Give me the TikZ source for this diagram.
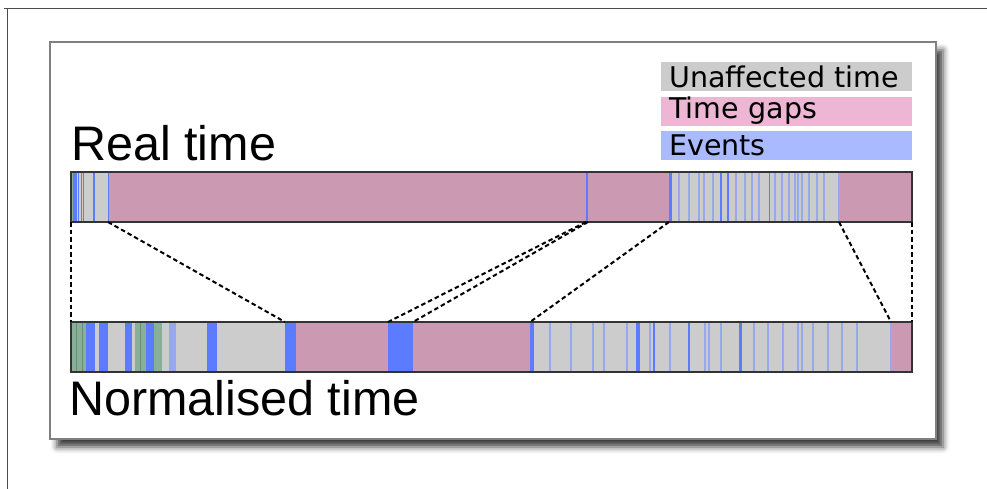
\documentclass[tikz,border=0pt]{standalone}
\usepackage{fontspec}
\setmainfont{Liberation Sans}
\newfontfamily\legendfont{DejaVu Sans}
\usepackage{tikz}
\usetikzlibrary{positioning,shadows.blur}

\definecolor{quietgray}{RGB}{204,204,204}
\definecolor{gappink}{RGB}{204,153,179}
\definecolor{eventblue}{RGB}{92,124,255}
\definecolor{faintblue}{RGB}{152,168,236}
\definecolor{busygreen}{RGB}{136,176,152}
\definecolor{legendpink}{RGB}{236,182,212}
\definecolor{legendblue}{RGB}{170,186,255}

\begin{document}
\begin{tikzpicture}[
    x=1pt, y=-1pt,
    node distance=5pt,
    font=\normalfont,
    frame/.style={
		draw=black!50,
		line width=2pt,
		fill=white,
		blur shadow={shadow xshift=7pt, shadow yshift=-8pt, shadow blur radius=6pt, shadow opacity=75}
	},
	bar/.style={
		draw=black!80,
		line width=1.3pt
	},
	faint/.style={
		draw=faintblue,
		line width=1.4pt
	},
	gapline/.style={
		draw=black,
		line width=2pt,
		dash pattern=on 4.5pt off 3pt
	},
	legend/.style={
		anchor=north west,
		font=\legendfont\fontsize{28.5}{30}\selectfont,
		text width=235pt,
		align=left,
		inner xsep=8pt,
		inner ysep=0pt,
		minimum height=29pt
	},
	title/.style={
		anchor=base west,
		inner sep=0pt,
		font=\fontsize{48.5}{52}\selectfont
	}
  ]
  \useasboundingbox (0,0) rectangle (987,489);

  % page edge
  \draw [black!70, line width=1pt] (4,9) -- (987,9);
  \draw [black!70, line width=1pt] (7,9) -- (7,489);

  % the framed panel
  \draw [frame] (50,42) rectangle (936,439);

  % legend
  \node [legend, fill=quietgray] (unaffected) at (661,62) {Unaffected time};
  \node [legend, fill=legendpink, below=of unaffected.south west, anchor=north west] (gaps) {Time gaps};
  \node [legend, fill=legendblue, below=of gaps.south west, anchor=north west] (events) {Events};

  % titles
  \node [title] (realtime) at (71,161) {Real time};
  \node [title] (normtime) at (69,415) {Normalised time};

  % --- real time bar ---
  \fill [quietgray] (71,172) rectangle (912,222);
  \foreach \a/\b in {108/669, 839/912}
    \fill [gappink] (\a,172) rectangle (\b,222);
  \fill [busygreen] (71,172) rectangle (73,222);
  \fill [eventblue] (73,172) rectangle (77,222);
  \foreach \x/\w in {78.5/1.4, 81.5/1.4, 83.5/1.6, 94/1.6, 108.5/1.8, 587/2.2, 670.5/2.6, 721/2, 728/2.2, 769.5/1.8}
    \draw [eventblue, line width=\w pt] (\x,172) -- (\x,222);
  \foreach \x in {679, 689, 699, 704, 713, 736, 745, 752, 759, 775, 782, 789, 795, 798, 802, 809, 817, 824, 839}
    \draw [faint] (\x,172) -- (\x,222);
  \draw [bar] (71,172) rectangle (912,222);

  % --- normalised time bar ---
  \fill [quietgray] (71,322) rectangle (912,372);
  \foreach \a/\b in {296/388, 413/530, 891/912}
    \fill [gappink] (\a,322) rectangle (\b,372);
  \foreach \a/\b in {71/86, 135/146, 154/162}
    \fill [busygreen] (\a,322) rectangle (\b,372);
  \foreach \x in {76, 82, 140}
    \draw [busygreen!80!black, line width=1pt] (\x,322) -- (\x,372);
  \fill [faintblue] (169,322) rectangle (176,372);
  \foreach \a/\b in {86/95, 99/108, 125/132, 146/154, 207/217, 285/296, 388/413, 530/534, 636/640, 653/655, 688/690, 739/742}
    \fill [eventblue] (\a,322) rectangle (\b,372);
  \foreach \x in {550, 571, 593, 604, 627, 650, 670, 705, 709, 721, 754, 768, 783, 798, 802, 813, 828, 842, 857, 891}
    \draw [faint] (\x,322) -- (\x,372);
  \draw [bar] (71,322) rectangle (912,372);

  % where each stretch of real time lands
  \coordinate (r0) at (71,222);  \coordinate (n0) at (71,322);
  \coordinate (r1) at (108,222); \coordinate (n1) at (285,322);
  \coordinate (r2) at (586,222); \coordinate (n2) at (388,322);
  \coordinate (r3) at (588,222); \coordinate (n3) at (413,322);
  \coordinate (r4) at (669,222); \coordinate (n4) at (530,322);
  \coordinate (r5) at (839,222); \coordinate (n5) at (891,322);
  \coordinate (r6) at (912,222); \coordinate (n6) at (912,322);
  \foreach \i in {0,...,6}
    \draw [gapline] (r\i) -- (n\i);

\end{tikzpicture}
\end{document}
